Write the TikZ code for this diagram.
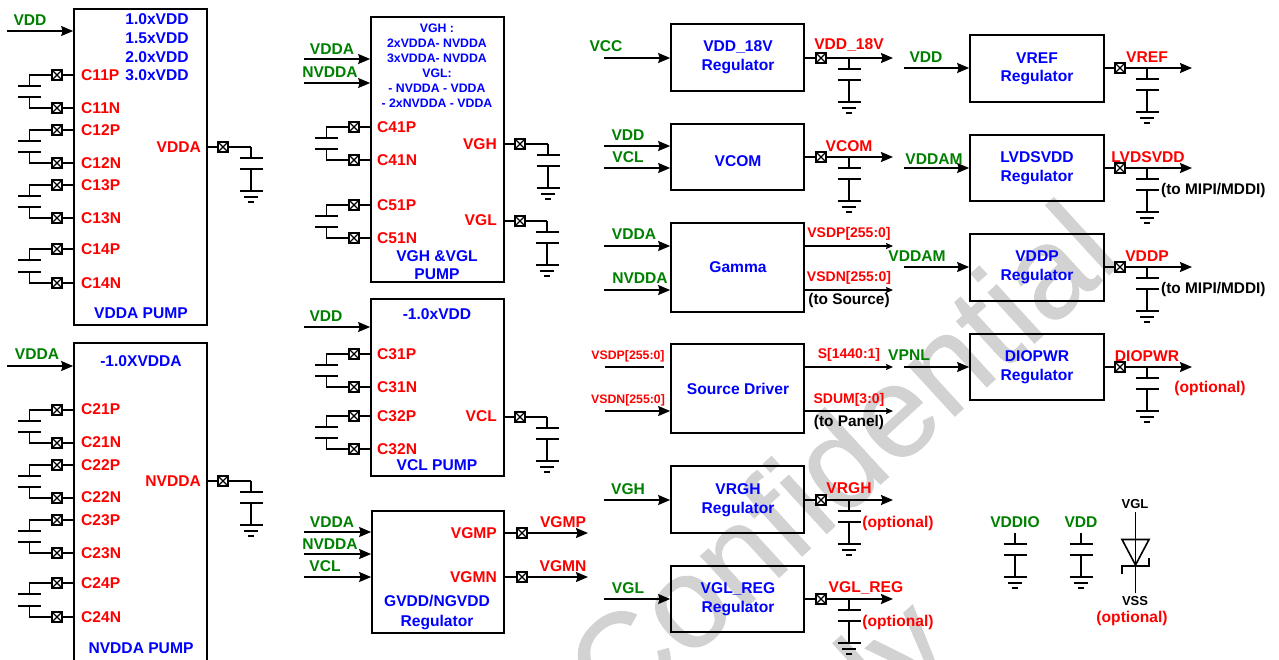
\documentclass[tikz,border=0pt]{standalone}
\usepackage{fontspec}
\setmainfont{Liberation Sans}
\newfontfamily\wmf[FakeBold=0.7]{Liberation Sans}
\usetikzlibrary{arrows.meta,fit,calc}
\definecolor{wm}{HTML}{D2D2D2}
\definecolor{tgreen}{HTML}{008000}
\tikzset{
 wire/.style={line width=1.6pt,line cap=butt,line join=miter},
 arr/.style={wire,-{Stealth[length=12pt,width=10pt,inset=1.5pt]}},
 sarr/.style={wire,line width=1.3pt,-{Stealth[length=7pt,width=6pt,inset=1pt]}},
 blk/.style={draw,line width=1.7pt,inner sep=0pt},
 pad/.style={draw,rectangle,fill=white,line width=2.2pt,minimum size=10.5pt,inner sep=0pt,
   path picture={\draw[line width=1.3pt] (path picture bounding box.north west)--(path picture bounding box.south east)
   (path picture bounding box.north east)--(path picture bounding box.south west);}},
 txt/.style={font=\fontsize{15.6}{17}\selectfont\bfseries,inner sep=0pt},
 small/.style={font=\fontsize{14}{16}\selectfont\bfseries},
 tiny/.style={font=\fontsize{12.3}{14}\selectfont\bfseries},
 note/.style={font=\fontsize{15.4}{17}\selectfont\bfseries},
 tl/.style={anchor=west},
 tr/.style={anchor=east},
 wmtext/.style={rotate=42.5,text=wm,font=\fontsize{130}{130}\selectfont\wmf,inner sep=0pt},
}
\newcounter{lb}
\newcommand\T[4][]{\stepcounter{lb}\node[txt,text=#2,#1] (lb\arabic{lb}) at (#3) {#4};}
\newcommand\B[5]{\node[blk,fit={(#2,#3)(#4,#5)}] (#1) {};}
\newcommand\Pad[3]{\node[pad] (#1) at (#2,#3) {};}
\newcommand\Cap[3][44]{\begin{scope}[shift={(#2,#3)}]
 \draw[wire] (0,0)--(0,11) (-11.5,11)--(11.5,11) (-11.5,22)--(11.5,22) (0,22)--(0,#1);
 \draw[wire] (-11.5,#1)--(11.5,#1) (-7,#1+6)--(7,#1+6) (-3,#1+11)--(3,#1+11);\end{scope}}
\newcommand\PC[6]{%
 \Pad{#1}{#5}{#2}\Pad{#3}{#5}{#4}
 \draw[wire] (#1.east)--(#1.east -| #6.west) (#3.east)--(#3.east -| #6.west);
 \draw[wire] (#1.west)--++(-21,0)--++(0,11) ++(-11.5,0)--++(23,0);
 \draw[wire] (#3.west)--++(-21,0)--++(0,-11) ++(-11.5,0)--++(23,0);}
\newcommand\In[4]{\coordinate (#1) at (#2,#3); \draw[arr] (#1)--(#1 -| #4.west);}
\newcommand\Out[5]{\Pad{#1}{#3}{#4}\coordinate (#1e) at (#5,#4);
 \draw[wire] (#2.east |- #1.west)--(#1.west); \draw[arr] (#1.east)--(#1e);}
\begin{document}
\begin{tikzpicture}[x=1pt,y=-1pt]
\useasboundingbox (0,0) rectangle (1279,659);
\begin{scope}
\clip (0,0) rectangle (1279,659);
\node[wmtext,anchor=base] (wmark) at (871,493) {Confidential};
\node[wmtext,anchor=base west] (wmark2) at (762,836) {Only};
\end{scope}
% ------ VDDA pump
\B{p1}{74}{9}{207}{325}
\In{i1}{7}{31}{p1}
\T{tgreen}{30,20}{VDD}
\foreach \y/\s in {19/1.0xVDD,38/1.5xVDD,57/2.0xVDD,75/3.0xVDD}{\T{blue}{157,\y}{\s}}
\PC{c11p}{75}{c11n}{108}{57}{p1}
\PC{c12p}{130}{c12n}{163}{57}{p1}
\PC{c13p}{185}{c13n}{218}{57}{p1}
\PC{c14p}{249}{c14n}{283}{57}{p1}
\foreach \y/\s in {75/C11P,108/C11N,130/C12P,163/C12N,185/C13P,218/C13N,249/C14P,283/C14N}{\T[tl]{red}{81,\y}{\s}}
\T[tr]{red}{201,147}{VDDA}
\Pad{ovdda}{223}{147}
\draw[wire] (p1.east |- ovdda)--(ovdda.west) (ovdda.east)--(251,147);
\Cap{251}{147}
\T{blue}{141,313}{VDDA PUMP}
% ------ NVDDA pump
\B{p2}{74}{343}{207}{665}
\In{i2}{7}{366}{p2}
\T{tgreen}{37,354}{VDDA}
\T{blue}{141,361}{-1.0XVDDA}
\PC{c21p}{410}{c21n}{443}{57}{p2}
\PC{c22p}{465}{c22n}{498}{57}{p2}
\PC{c23p}{520}{c23n}{553}{57}{p2}
\PC{c24p}{583}{c24n}{617}{57}{p2}
\foreach \y/\s in {409/C21P,442/C21N,465/C22P,497/C22N,520/C23P,553/C23N,583/C24P,617/C24N}{\T[tl]{red}{81,\y}{\s}}
\T[tr]{red}{201,481}{NVDDA}
\Pad{onvdda}{223}{481}
\draw[wire] (p2.east |- onvdda)--(onvdda.west) (onvdda.east)--(251,481);
\Cap{251}{481}
\T{blue}{141,648}{NVDDA PUMP}
% ------ VGH pump
\B{p3}{371}{17}{504}{282}
\In{i3}{304}{59}{p3}
\In{i4}{304}{83}{p3}
\T{tgreen}{332,49}{VDDA}
\T{tgreen}{330,72}{NVDDA}
\foreach \y/\s in {28/VGH :,43/2xVDDA- NVDDA,58/3xVDDA- NVDDA,73/VGL:,88/- NVDDA - VDDA,103/- 2xNVDDA - VDDA}{\T[tiny]{blue}{437,\y}{\s}}
\PC{c41p}{127}{c41n}{160}{354}{p3}
\PC{c51p}{205}{c51n}{238}{354}{p3}
\foreach \y/\s in {127/C41P,160/C41N,205/C51P,238/C51N}{\T[tl]{red}{377,\y}{\s}}
\T[tr]{red}{497,144}{VGH}
\T[tr]{red}{497,220}{VGL}
\Pad{ovgh}{520}{144}
\draw[wire] (p3.east |- ovgh)--(ovgh.west) (ovgh.east)--(548,144);
\Cap{548}{144}
\Pad{ovgl}{520}{221}
\draw[wire] (p3.east |- ovgl)--(ovgl.west) (ovgl.east)--(547,221);
\Cap{547}{221}
\T{blue}{437,256}{VGH \&VGL}
\T{blue}{437,274}{PUMP}
% ------ VCL pump
\B{p4}{371}{299}{504}{476}
\In{i5}{304}{327}{p4}
\T{tgreen}{326,316}{VDD}
\T{blue}{437,314}{-1.0xVDD}
\PC{c31p}{354}{c31n}{387}{354}{p4}
\PC{c32p}{416}{c32n}{449}{354}{p4}
\foreach \y/\s in {354/C31P,387/C31N,416/C32P,449/C32N}{\T[tl]{red}{377,\y}{\s}}
\T[tr]{red}{497,416}{VCL}
\Pad{ovcl}{520}{417}
\draw[wire] (p4.east |- ovcl)--(ovcl.west) (ovcl.east)--(547,417);
\Cap{547}{417}
\T{blue}{437,465}{VCL PUMP}
% ------ GVDD
\B{p5}{372}{511}{504}{633}
\In{i6}{304}{532}{p5}
\In{i7}{304}{554}{p5}
\In{i8}{304}{577}{p5}
\T{tgreen}{332,522}{VDDA}
\T{tgreen}{330,544}{NVDDA}
\T{tgreen}{325,566}{VCL}
\T[tr]{red}{497,533}{VGMP}
\T[tr]{red}{497,577}{VGMN}
\Out{ogmp}{p5}{522}{533}{588}
\Out{ogmn}{p5}{522}{577}{588}
\T{red}{563,522}{VGMP}
\T{red}{563,566}{VGMN}
\T{blue}{437,601}{GVDD/NGVDD}
\T{blue}{437,622}{Regulator}
% ------ third column
\B{r1}{671}{24}{804}{91}
\In{j1}{604}{58}{r1}
\T{tgreen}{606,46}{VCC}
\T{blue}{738,47}{VDD\_18V}
\T{blue}{738,66}{Regulator}
\Out{o1}{r1}{821}{58}{893}
\Cap{849}{58}
\T{red}{849,45}{VDD\_18V}
\B{r2}{671}{124}{804}{190}
\In{j2}{604}{146}{r2}
\In{j3}{604}{168}{r2}
\T{tgreen}{628,135}{VDD}
\T{tgreen}{628,157}{VCL}
\T{blue}{738,161}{VCOM}
\Out{o2}{r2}{821}{157}{893}
\Cap{849}{157}
\T{red}{849,146}{VCOM}
\B{r3}{671}{223}{804}{312}
\In{j4}{604}{246}{r3}
\In{j5}{604}{290}{r3}
\T{tgreen}{634,234}{VDDA}
\T{tgreen}{640,278}{NVDDA}
\T{blue}{738,267}{Gamma}
\coordinate (e1) at (893,246); \coordinate (e2) at (893,290);
\draw[sarr] (r3.east |- e1)--(e1);
\draw[sarr] (r3.east |- e2)--(e2);
\T[small]{red}{849,234}{VSDP[255:0]}
\T[small]{red}{849,278}{VSDN[255:0]}
\T[note]{black}{849,301}{(to Source)}
\B{r4}{671}{344}{804}{433}
\coordinate (j6) at (605,367); \coordinate (j6e) at (664,367);
\draw[wire] (j6)--(j6e);
\In{j7}{605}{411}{r4}
\T[tiny]{red}{628,356}{VSDP[255:0]}
\T[tiny]{red}{628,400}{VSDN[255:0]}
\T{blue}{738,389}{Source Driver}
\coordinate (e3) at (893,367); \coordinate (e4) at (893,411);
\draw[sarr] (r4.east |- e3)--(e3);
\draw[sarr] (r4.east |- e4)--(e4);
\T[small]{red}{849,355}{S[1440:1]}
\T[small]{red}{849,400}{SDUM[3:0]}
\T[note]{black}{849,423}{(to Panel)}
\B{r5}{671}{466}{804}{533}
\In{j8}{604}{500}{r5}
\T{tgreen}{628,489}{VGH}
\T{blue}{738,489}{VRGH}
\T{blue}{738,509}{Regulator}
\Out{o5}{r5}{821}{500}{893}
\Cap{849}{500}
\T{red}{849,488}{VRGH}
\T{red}{898,523}{(optional)}
\B{r6}{671}{566}{804}{632}
\In{j9}{604}{599}{r6}
\T{tgreen}{628,588}{VGL}
\T{blue}{738,589}{VGL\_REG}
\T{blue}{738,608}{Regulator}
\Out{o6}{r6}{821}{599}{893}
\Cap{849}{599}
\T{red}{866,588}{VGL\_REG}
\T{red}{898,622}{(optional)}
% ------ fourth column
\B{s1}{970}{35}{1104}{102}
\In{k1}{904}{68}{s1}
\T{tgreen}{926,57}{VDD}
\T{blue}{1037,58}{VREF}
\T{blue}{1037,77}{Regulator}
\Out{q1}{s1}{1120}{68}{1192}
\Cap{1147}{68}
\T{red}{1147,57}{VREF}
\B{s2}{970}{135}{1104}{201}
\In{k2}{904}{168}{s2}
\T{tgreen}{934,159}{VDDAM}
\T{blue}{1037,157}{LVDSVDD}
\T{blue}{1037,177}{Regulator}
\Out{q2}{s2}{1120}{168}{1192}
\Cap{1147}{168}
\T{red}{1148,157}{LVDSVDD}
\T[tl,note]{black}{1161,191}{(to MIPI/MDDI)}
\B{s3}{970}{234}{1104}{301}
\In{k3}{904}{267}{s3}
\T{tgreen}{917,256}{VDDAM}
\T{blue}{1037,256}{VDDP}
\T{blue}{1037,276}{Regulator}
\Out{q3}{s3}{1120}{267}{1192}
\Cap{1147}{267}
\T{red}{1147,256}{VDDP}
\T[tl,note]{black}{1161,290}{(to MIPI/MDDI)}
\B{s4}{970}{334}{1104}{400}
\In{k4}{904}{367}{s4}
\T{tgreen}{909,355}{VPNL}
\T{blue}{1037,356}{DIOPWR}
\T{blue}{1037,376}{Regulator}
\Out{q4}{s4}{1120}{367}{1192}
\Cap{1147}{367}
\T{red}{1147,356}{DIOPWR}
\T{red}{1210,388}{(optional)}
% ------ legend
\T{tgreen}{1015,522}{VDDIO}
\T{tgreen}{1081,522}{VDD}
\Cap{1015}{533}
\Cap{1081}{533}
\T[font=\fontsize{13}{15}\selectfont\bfseries]{black}{1135,504}{VGL}
\T[font=\fontsize{13}{15}\selectfont\bfseries]{black}{1135,601}{VSS}
\T{red}{1132,618}{(optional)}
\draw[wire] (1135.5,512)--(1135.5,593);
\draw[wire,line join=miter] (1122,539.5)--(1149,539.5)--(1135.5,565)--cycle;
\draw[wire] (1122,574)--(1122,566)--(1149,566)--(1149,558);
\end{tikzpicture}
\end{document}
